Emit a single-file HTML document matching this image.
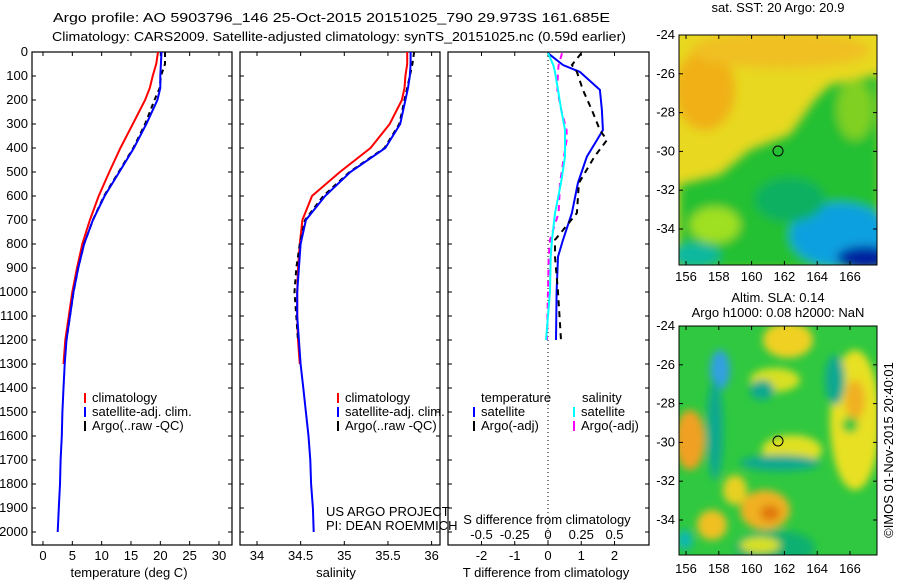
<!DOCTYPE html>
<html><head><meta charset="utf-8"><style>
html,body{margin:0;padding:0;background:#fff;}
svg text{font-family:"Liberation Sans",sans-serif;font-size:13px;fill:#000;}
</style></head><body>
<svg id="fig" width="900" height="580" xmlns="http://www.w3.org/2000/svg">
<defs>
<filter id="bl" x="-20%" y="-20%" width="140%" height="140%"><feGaussianBlur stdDeviation="5"/></filter>
<filter id="bl2" x="-20%" y="-20%" width="140%" height="140%"><feGaussianBlur stdDeviation="4"/></filter>
<clipPath id="c1"><rect x="679" y="35" width="198" height="230"/></clipPath>
<clipPath id="c2"><rect x="679" y="326" width="198" height="229"/></clipPath>
</defs>
<text x="53" y="22" font-size="15" textLength="557" lengthAdjust="spacingAndGlyphs">Argo profile: AO 5903796_146 25-Oct-2015 20151025_790 29.973S 161.685E</text>
<text x="52" y="41" font-size="15" textLength="574" lengthAdjust="spacingAndGlyphs">Climatology: CARS2009. Satellite-adjusted climatology: synTS_20151025.nc (0.59d earlier)</text>

<!-- top SST map -->
<g clip-path="url(#c1)">
<rect x="679" y="35" width="198" height="230" fill="#e8d820"/>
<g filter="url(#bl)">
<ellipse cx="705" cy="90" rx="30" ry="40" fill="#f0b018"/>
<ellipse cx="780" cy="50" rx="90" ry="18" fill="#f0c020"/>
<polygon points="830,85 880,75 880,270 679,270 679,185 720,175 750,150 790,135 815,100" fill="#20c030"/>
<ellipse cx="855" cy="110" rx="18" ry="30" fill="#80d020"/>
<ellipse cx="715" cy="225" rx="25" ry="18" fill="#a0e020"/>
<ellipse cx="695" cy="255" rx="25" ry="12" fill="#10b8a0"/>
<ellipse cx="840" cy="235" rx="50" ry="32" fill="#10a0e0"/>
<ellipse cx="865" cy="258" rx="28" ry="12" fill="#0020a0"/>
<ellipse cx="790" cy="200" rx="35" ry="22" fill="#10b060"/>
</g>
</g>
<rect x="679" y="35" width="198" height="230" fill="none" stroke="#000"/>
<circle cx="778" cy="151" r="5" fill="none" stroke="#000"/>
<text x="778" y="12" text-anchor="middle" font-size="12">sat. SST: 20 Argo: 20.9</text>

<!-- bottom SLA map -->
<g clip-path="url(#c2)">
<rect x="679" y="326" width="198" height="229" fill="#30c840"/>
<g filter="url(#bl2)">
<ellipse cx="690" cy="440" rx="15" ry="30" fill="#f0a020"/>
<ellipse cx="788" cy="340" rx="25" ry="18" fill="#f0d020"/>
<ellipse cx="775" cy="380" rx="25" ry="12" fill="#d8e020"/>
<ellipse cx="855" cy="420" rx="25" ry="70" fill="#e8e020"/>
<ellipse cx="855" cy="400" rx="10" ry="20" fill="#f0b020"/>
<ellipse cx="850" cy="425" rx="8" ry="8" fill="#30c840"/>
<ellipse cx="792" cy="450" rx="30" ry="15" fill="#e0e020"/>
<ellipse cx="775" cy="548" rx="40" ry="18" fill="#10b070"/>
<ellipse cx="760" cy="545" rx="20" ry="8" fill="#d8e020"/>
<ellipse cx="765" cy="510" rx="25" ry="20" fill="#f0b020"/>
<ellipse cx="770" cy="513" rx="10" ry="8" fill="#e07810"/>
<ellipse cx="735" cy="490" rx="12" ry="15" fill="#e8d020"/>
<ellipse cx="712" cy="525" rx="15" ry="15" fill="#f0c020"/>
<ellipse cx="720" cy="370" rx="10" ry="20" fill="#30a0e0"/>
<ellipse cx="715" cy="430" rx="8" ry="50" fill="#10a890"/>
<ellipse cx="780" cy="463" rx="40" ry="8" fill="#10a890"/>
<ellipse cx="762" cy="390" rx="12" ry="10" fill="#10a890"/>
<ellipse cx="835" cy="380" rx="10" ry="25" fill="#10a890"/>
<ellipse cx="685" cy="540" rx="8" ry="10" fill="#10b8b0"/>
</g>
</g>
<rect x="679" y="326" width="198" height="229" fill="none" stroke="#000"/>
<circle cx="778" cy="441" r="5" fill="none" stroke="#000"/>
<text x="778" y="302" text-anchor="middle" font-size="12">Altim. SLA: 0.14</text>
<text x="778" y="317" text-anchor="middle" font-size="12">Argo h1000: 0.08 h2000: NaN</text>
<text transform="translate(893,450) rotate(-90)" text-anchor="middle" font-size="12">©IMOS 01-Nov-2015 20:40:01</text>
<g id="maps"></g>
<g id="charts"></g>
</svg>
<script>
// depth grids (m)
const tDepth = [0,50,100,150,200,300,400,500,600,700,800,900,1000,1100,1200,1300,1400,1500,1600,1700,1800,1900,2000];
const tempClim = [19.6,19.3,18.7,18.2,17.4,15.3,13.2,11.3,9.5,8.0,6.7,5.8,5.0,4.4,3.8,3.5];
const tempSat = [20.2,20.1,20.0,20.0,19.5,17.6,15.5,13.0,10.5,8.5,7.0,6.0,5.2,4.6,4.0,3.7,3.5,3.3,3.2,3.0,2.9,2.7,2.5];
const tempArgo = [20.8,20.8,20.1,19.9,19.0,17.4,15.4,12.9,10.4,8.5,7.0,6.0,5.2,4.6,4.0];
const salClim = [35.72,35.72,35.7,35.69,35.66,35.52,35.3,34.95,34.63,34.52,34.49,34.47,34.46,34.46,34.47,34.49];
const salSat = [35.76,35.76,35.75,35.73,35.7,35.64,35.47,35.07,34.78,34.56,34.5,34.48,34.46,34.46,34.48,34.5,34.53,34.56,34.59,34.61,34.62,34.64,34.65];
const salArgo = [35.8,35.78,35.75,35.72,35.69,35.63,35.46,35.06,34.76,34.55,34.49,34.45,34.43,34.45,34.47];
const dDepth = [5,54,83,158,242,325,367,436,546,671,783,853,1000,1200];
const dTsat = [0,0.45,0.96,1.56,1.62,1.65,1.47,1.17,0.9,0.72,0.45,0.3,0.26,0.24];
const dTargo = [1.0,0.72,0.87,1.05,1.32,1.56,1.77,1.4,0.93,0.87,0.21,0.21,0.3,0.39];
const dSsat = [0,0.04,0.053,0.075,0.1,0.128,0.128,0.128,0.098,0.053,0.03,0.02,0.015,-0.015];
const dSargo = [0.105,0.08,0.075,0.07,0.1,0.14,0.14,0.12,0.09,0.08,0.015,0.005,0,-0.008];
const depthTicks = [0,100,200,300,400,500,600,700,800,900,1000,1100,1200,1300,1400,1500,1600,1700,1800,1900,2000];
const tempTicks = [0,5,10,15,20,25,30];
const salTicks = [34,34.5,35,35.5,36];
const dTTicks = [-2,-1,0,1,2];
const dSTicks = [-0.5,-0.25,0,0.25,0.5];
const latTicks = [-24,-26,-28,-30,-32,-34];
const lonTicks = [156,158,160,162,164,166];

const NS='http://www.w3.org/2000/svg';
const root=document.getElementById('charts');
function el(tag,attrs,parent){const e=document.createElementNS(NS,tag);for(const k in attrs)e.setAttribute(k,attrs[k]);(parent||root).appendChild(e);return e;}
function txt(x,y,s,anchor,parent,size){const t=el('text',{x:x,y:y,'text-anchor':anchor||'middle'},parent);if(size)t.setAttribute('font-size',size);t.textContent=s;return t;}
const Y=d=>52+d*0.24;
const panels=[{x0:32,x1:232,f:v=>43+v*(176/30)},{x0:240,x1:440,f:v=>257+(v-34)*87.3},{x0:448,x1:649,f:v=>548+v*33.25}];
const fS=v=>548+v*133;

function line(xs,vals,fx,color,dash,name,w){
  const pts=vals.map((v,i)=>fx(v).toFixed(1)+','+Y(xs[i]).toFixed(1)).join(' ');
  const p=el('polyline',{points:pts,fill:'none',stroke:color,'stroke-width':w||2});
  if(dash)p.setAttribute('stroke-dasharray',dash);
  
  
}
panels.forEach((p,i)=>{
  const r=el('rect',{x:p.x0,y:52,width:p.x1-p.x0,height:493,fill:'none',stroke:'#000','stroke-width':1.2});
  
  
  depthTicks.forEach(d=>{el('line',{x1:p.x0,x2:p.x0+4,y1:Y(d),y2:Y(d),stroke:'#000'});el('line',{x1:p.x1-4,x2:p.x1,y1:Y(d),y2:Y(d),stroke:'#000'});});
});
depthTicks.forEach(d=>{const t=txt(28,Y(d)+4,String(d),'end');
  
  });
function xticks(ticks,f,labY,lab){ticks.forEach(v=>{const x=f(v);el('line',{x1:x,x2:x,y1:545,y2:541,stroke:'#000'});el('line',{x1:x,x2:x,y1:52,y2:56,stroke:'#000'});
  if(lab!==false){const t=txt(x,labY,String(v));
  
  }});}
xticks(tempTicks,panels[0].f,560);xticks(salTicks,panels[1].f,560);xticks(dTTicks,panels[2].f,560);
dSTicks.forEach(v=>{const t=txt(fS(v),539,String(v));
  
  });
let t;
t=txt(129,577,'temperature (deg C)');
t=txt(336,577,'salinity');
t=txt(546,577,'T difference from climatology');
t=txt(547,524,'S difference from climatology');
t=txt(326,516,'US ARGO PROJECT','start');
t=txt(326,530,'PI: DEAN ROEMMICH','start');
// zero line
el('line',{x1:548,x2:548,y1:52,y2:545,stroke:'#000','stroke-dasharray':'1,3'});

const f0=panels[0].f,f1=panels[1].f,f2=panels[2].f;
line(tDepth.slice(0,tempClim.length),tempClim,f0,'#f00',null,'temp-climatology-line');
line(tDepth.slice(0,tempArgo.length),tempArgo,f0,'#000','5,4','temp-argo-line');
line(tDepth,tempSat,f0,'#00f',null,'temp-satellite-line');
line(tDepth.slice(0,salClim.length),salClim,f1,'#f00',null,'sal-climatology-line');
line(tDepth.slice(0,salArgo.length),salArgo,f1,'#000','5,4','sal-argo-line');
line(tDepth,salSat,f1,'#00f',null,'sal-satellite-line');
line(dDepth,dTsat,f2,'#00f',null,'t-diff-satellite-line');
line(dDepth,dTargo,f2,'#000','6,5','t-diff-argo-line');
line(dDepth,dSargo,fS,'#f0f','6,5','s-diff-argo-line');
line(dDepth,dSsat,fS,'#0ff',null,'s-diff-satellite-line');

function legend(x,y,color,label,name){el('rect',{x:x,y:y-9,width:2,height:10,fill:color});const t=txt(x+8,y,label,'start');
  
  }
legend(84,402,'#f00','climatology','legend-temp-climatology');
legend(84,416,'#00f','satellite-adj. clim.','legend-temp-satellite');
legend(84,430,'#000','Argo(..raw -QC)','legend-temp-argo');
legend(337,402,'#f00','climatology','legend-sal-climatology');
legend(337,416,'#00f','satellite-adj. clim.','legend-sal-satellite');
legend(337,430,'#000','Argo(..raw -QC)','legend-sal-argo');
t=txt(481,402,'temperature','start');
t=txt(582,402,'salinity','start');
legend(473,416,'#00f','satellite','legend-t-diff-satellite');
legend(473,430,'#000','Argo(-adj)','legend-t-diff-argo');
legend(573,416,'#0ff','satellite','legend-s-diff-satellite');
legend(573,430,'#f0f','Argo(-adj)','legend-s-diff-argo');

// map axes
const maps=document.getElementById('maps');
[[35,265,281],[326,555,573]].forEach(([y0,y1,ly])=>{
  latTicks.forEach(v=>{const y=y0+(-24-v)*19.4;el('line',{x1:679,x2:683,y1:y,y2:y,stroke:'#000'},maps);el('line',{x1:873,x2:877,y1:y,y2:y,stroke:'#000'},maps);
    const t=txt(675,y+4,String(v),'end',maps);
    
    });
  lonTicks.forEach(v=>{const x=686+(v-156)*16.4;el('line',{x1:x,x2:x,y1:y1,y2:y1-4,stroke:'#000'},maps);el('line',{x1:x,x2:x,y1:y0,y2:y0+4,stroke:'#000'},maps);
    const t=txt(x,ly,String(v),'middle',maps);
    
    });
});
</script>
</body></html>
